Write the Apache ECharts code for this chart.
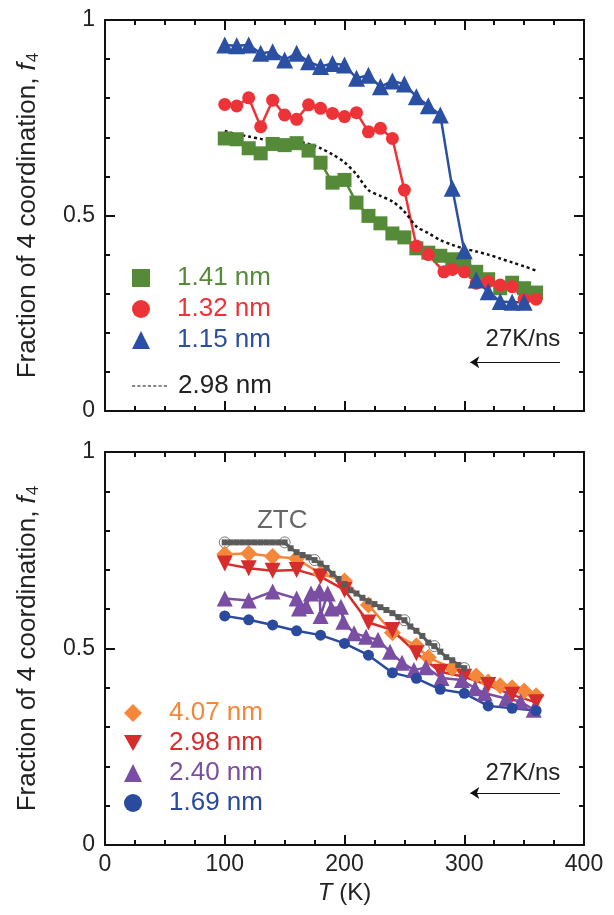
<!DOCTYPE html>
<html style="height: 100%">
<head>
    <meta charset="UTF-8">
    <title>Fraction of 4 coordination</title>
    <script src="https://cdn.jsdelivr.net/npm/echarts@6/dist/echarts.min.js"></script>
</head>
<body style="height: 100%; margin: 0; background: #fff">
    <div id="main" style="width: 614px; height: 915px"></div>
    <script type="text/javascript">
        // top panel: [T (K), f4]
        const green141 = [[100,0.697],[110,0.695],[120,0.672],[130,0.659],[140,0.683],[150,0.680],[160,0.685],[170,0.666],[180,0.635],[190,0.584],[200,0.591],[210,0.533],[220,0.499],[230,0.480],[240,0.454],[250,0.444],[260,0.416],[270,0.405],[280,0.397],[290,0.388],[300,0.378],[310,0.356],[320,0.337],[330,0.314],[340,0.328],[350,0.314],[360,0.303]];
        const red132 = [[100,0.784],[110,0.780],[120,0.801],[130,0.727],[140,0.795],[150,0.757],[160,0.746],[170,0.783],[180,0.774],[190,0.761],[200,0.753],[210,0.763],[220,0.714],[230,0.723],[240,0.697],[250,0.565],[260,0.422],[270,0.400],[283,0.356],[290,0.362],[300,0.356],[310,0.327],[320,0.331],[330,0.322],[340,0.318],[350,0.286],[360,0.286]];
        const blue115 = [[100,0.936],[110,0.934],[120,0.936],[130,0.915],[140,0.919],[150,0.898],[160,0.915],[170,0.893],[180,0.881],[190,0.889],[200,0.885],[210,0.851],[220,0.859],[230,0.829],[240,0.844],[250,0.836],[260,0.804],[270,0.781],[280,0.757],[290,0.570],[300,0.410],[310,0.335],[320,0.305],[330,0.280],[340,0.278],[350,0.278]];
        const dotted298 = [[100,0.716],[110,0.708],[120,0.702],[130,0.696],[140,0.693],[150,0.692],[160,0.690],[170,0.683],[180,0.672],[190,0.656],[200,0.636],[210,0.605],[220,0.565],[230,0.550],[240,0.536],[250,0.510],[260,0.472],[270,0.455],[280,0.437],[290,0.425],[300,0.415],[310,0.408],[320,0.400],[330,0.390],[340,0.380],[350,0.370],[360,0.359]];

        // bottom panel
        const ztcLine = [[100,0.770],[105,0.770],[110,0.770],[115,0.770],[120,0.770],[125,0.770],[130,0.770],[135,0.770],[140,0.770],[145,0.770],[150,0.770],[155,0.755],[160,0.745],[165,0.738],[170,0.732],[175,0.725],[180,0.716],[185,0.705],[190,0.690],[195,0.677],[200,0.664],[205,0.648],[210,0.640],[215,0.629],[220,0.620],[225,0.613],[230,0.605],[235,0.598],[240,0.590],[245,0.580],[250,0.572],[255,0.556],[260,0.545],[265,0.532],[270,0.515],[275,0.506],[280,0.492],[285,0.478],[290,0.470],[295,0.458],[300,0.450]];
        const ztcOpen = [[100,0.770],[150,0.770],[175,0.725],[200,0.664],[250,0.572],[275,0.506],[300,0.450]];
        const orange407 = [[100,0.740],[120,0.742],[140,0.734],[160,0.729],[180,0.690],[200,0.672],[220,0.611],[240,0.540],[260,0.507],[270,0.477],[290,0.450],[310,0.430],[320,0.415],[330,0.405],[340,0.400],[350,0.392],[360,0.380]];
        const red298 = [[100,0.716],[120,0.704],[140,0.698],[160,0.700],[180,0.683],[200,0.649],[220,0.566],[240,0.547],[260,0.488],[280,0.441],[300,0.428],[320,0.407],[340,0.382],[360,0.363]];
        const purple240 = [[100,0.627],[120,0.622],[140,0.645],[160,0.627],[162,0.602],[168,0.608],[172,0.640],[179,0.647],[180,0.583],[186,0.640],[189,0.602],[197,0.606],[199,0.568],[208,0.539],[218,0.530],[228,0.522],[238,0.492],[248,0.464],[258,0.445],[268,0.452],[281,0.425],[298,0.420],[309,0.399],[317,0.386],[335,0.373],[347,0.365],[358,0.344]];
        const blue169 = [[100,0.583],[120,0.573],[140,0.560],[160,0.545],[180,0.534],[200,0.513],[220,0.483],[240,0.438],[260,0.424],[280,0.396],[300,0.386],[320,0.354],[340,0.348],[360,0.342]];

        const xTicks = [0, 100, 200, 300, 400];
        const yTicks = [0, 0.5, 1];

        const font = 'Liberation Sans, Arial, sans-serif';
        const ink = '#222';
        // short dashes for the dotted legend key
        const dotKey = 'path://M0,0h3v1h-3z M5,0h3v1h-3z M10,0h3v1h-3z M15,0h3v1h-3z M20,0h3v1h-3z M25,0h3v1h-3z M30,0h3v1h-3z';

        var myChart = echarts.init(document.getElementById('main'));

        function xAxis(grid, pos, labels) {
            return {
                type: 'value', gridIndex: grid, position: pos,
                min: xTicks[0], max: xTicks[xTicks.length - 1], interval: 100,
                axisLine: {show: true, onZero: false, lineStyle: {color: '#111', width: 2}},
                axisTick: {show: true, inside: true, length: 10, lineStyle: {color: '#111', width: 2}},
                minorTick: {show: true, splitNumber: 4, length: 5, lineStyle: {color: '#111', width: 2}},
                splitLine: {show: false},
                axisLabel: {show: labels, color: ink, fontSize: 23, fontFamily: font, margin: 8},
                name: labels ? '{i|T} (K)' : '',
                nameLocation: 'middle', nameGap: 36,
                nameTextStyle: {color: ink, fontSize: 24, fontFamily: font,
                    rich: {i: {fontStyle: 'italic', fontSize: 24, fontFamily: font, color: ink}}}
            };
        }
        function yAxis(grid, pos, labels) {
            return {
                type: 'value', gridIndex: grid, position: pos,
                min: yTicks[0], max: yTicks[yTicks.length - 1], interval: 0.5,
                axisLine: {show: true, onZero: false, lineStyle: {color: '#111', width: 2}},
                axisTick: {show: true, inside: true, length: 10, lineStyle: {color: '#111', width: 2}},
                minorTick: {show: true, splitNumber: 5, length: 5, lineStyle: {color: '#111', width: 2}},
                splitLine: {show: false},
                axisLabel: {show: labels, color: ink, fontSize: 23, fontFamily: font, margin: 10},
                name: labels ? 'Fraction of 4 coordination, {i|f}{s|4}' : '',
                nameLocation: 'middle', nameGap: 63, nameRotate: 90,
                nameTextStyle: {color: ink, fontSize: 26, fontFamily: font,
                    rich: {
                        i: {fontStyle: 'italic', fontSize: 26, fontFamily: font, color: ink},
                        s: {fontSize: 17, fontFamily: font, color: ink, verticalAlign: 'bottom', padding: [12, 0, 0, 1]}
                    }}
            };
        }

        function marker(name, data, x, y, color, symbol, size, extra) {
            return Object.assign({
                name: name, type: 'line', xAxisIndex: x, yAxisIndex: y, data: data,
                symbol: symbol, symbolSize: size, showSymbol: true,
                itemStyle: {color: color}, lineStyle: {color: color, width: 2.5},
                emphasis: {disabled: true}
            }, extra || {});
        }

        function rateNote(y0, yText) {
            return {
                markLine: {
                    silent: true, symbol: ['none', 'arrow'], symbolSize: 9,
                    label: {show: false},
                    lineStyle: {color: '#111', width: 1, type: 'solid'},
                    data: [[{coord: [380, y0]}, {coord: [305, y0]}]]
                },
                markPoint: {
                    silent: true, symbol: 'circle', symbolSize: 1,
                    itemStyle: {color: 'rgba(0,0,0,0)'},
                    label: {show: true, position: 'inside', formatter: '27K/ns', color: ink, fontSize: 24, fontFamily: font},
                    data: [{coord: [349, yText]}]
                }
            };
        }

        myChart.setOption({
            animation: false,
            backgroundColor: '#fff',
            grid: [
                {left: 105, top: 20, width: 479, height: 391},
                {left: 105, top: 452, width: 479, height: 393}
            ],
            xAxis: [xAxis(0, 'bottom', false), xAxis(0, 'top', false), xAxis(1, 'bottom', true), xAxis(1, 'top', false)],
            yAxis: [yAxis(0, 'left', true), yAxis(0, 'right', false), yAxis(1, 'left', true), yAxis(1, 'right', false)],
            legend: [
                {
                    orient: 'vertical', left: 127, top: 260, itemWidth: 18, itemHeight: 18, itemGap: 5,
                    selectedMode: false,
                    textStyle: {fontSize: 26, fontFamily: font, padding: [0, 0, 0, 22]},
                    data: [
                        {name: '1.41 nm', icon: 'rect', textStyle: {color: '#558a38'}},
                        {name: '1.32 nm', icon: 'circle', textStyle: {color: '#ee3338'}},
                        {name: '1.15 nm', icon: 'triangle', textStyle: {color: '#2a4fa3'}}
                    ]
                },
                {
                    orient: 'vertical', left: 127, top: 368, itemWidth: 35, itemHeight: 2.5,
                    selectedMode: false,
                    textStyle: {fontSize: 26, fontFamily: font, color: ink, padding: [0, 0, 0, 6]},
                    data: [{name: '2.98 nm ', icon: dotKey, itemStyle: {color: '#111'}}]
                },
                {
                    orient: 'vertical', left: 119, top: 695, itemWidth: 18, itemHeight: 18, itemGap: 4,
                    selectedMode: false,
                    textStyle: {fontSize: 26, fontFamily: font, padding: [0, 0, 0, 22]},
                    data: [
                        {name: '4.07 nm', icon: 'diamond', textStyle: {color: '#f5873a'}},
                        {name: '2.98 nm', icon: 'path://M0,0 L10,0 L5,9 Z', textStyle: {color: '#d62c2c'}},
                        {name: '2.40 nm', icon: 'triangle', textStyle: {color: '#7a4ea3'}},
                        {name: '1.69 nm', icon: 'circle', textStyle: {color: '#2a4a9e'}}
                    ]
                }
            ],
            series: [
                marker('1.41 nm', green141, 0, 0, '#558a38', 'rect', 14),
                marker('1.32 nm', red132, 0, 0, '#ee3338', 'circle', 13),
                marker('1.15 nm', blue115, 0, 0, '#2a4fa3', 'triangle', 17),
                Object.assign(marker('2.98 nm ', dotted298, 0, 0, '#111', 'none', 0, {
                    smooth: 0.3,
                    lineStyle: {color: '#111', width: 2.5, type: [3, 3]}
                }), rateNote(0.125, 0.182)),

                marker('4.07 nm', orange407, 2, 2, '#f5873a', 'diamond', 17),
                marker('2.98 nm', red298, 2, 2, '#d62c2c', 'triangle', 16, {symbolRotate: 180}),
                marker('2.40 nm', purple240, 2, 2, '#7a4ea3', 'triangle', 16),
                Object.assign(marker('1.69 nm', blue169, 2, 2, '#2a4a9e', 'circle', 11), rateNote(0.132, 0.183)),
                marker('ZTC', ztcLine, 2, 2, '#5a5a5a', 'rect', 6, {
                    lineStyle: {color: '#5a5a5a', width: 3},
                    markPoint: {
                        silent: true, symbol: 'circle', symbolSize: 1,
                        itemStyle: {color: 'rgba(0,0,0,0)'},
                        label: {show: true, position: 'inside', formatter: 'ZTC', color: '#666', fontSize: 26, fontFamily: font},
                        data: [{coord: [148, 0.825]}]
                    }
                }),
                {
                    name: 'ZTC open', type: 'scatter', xAxisIndex: 2, yAxisIndex: 2, data: ztcOpen,
                    symbol: 'circle', symbolSize: 11,
                    itemStyle: {color: '#fff', borderColor: '#555', borderWidth: 1},
                    emphasis: {disabled: true}
                }
            ]
        });
    </script>
</body>
</html>
